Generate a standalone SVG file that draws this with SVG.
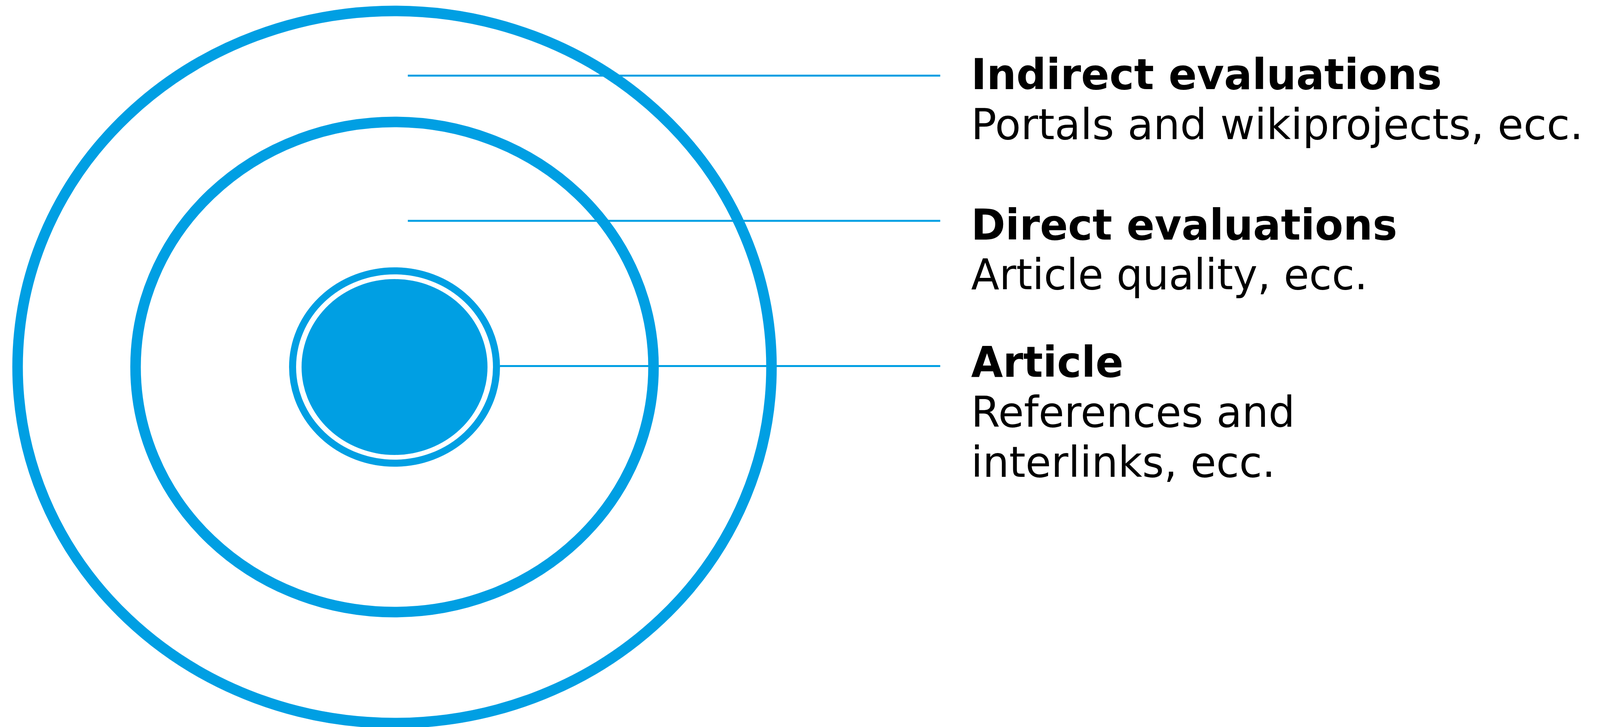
<svg xmlns="http://www.w3.org/2000/svg" width="4108" height="1860" viewBox="0 0 4108 1860">
<style>
.ring{fill:none;stroke:#009FE3}
.conn{stroke:#009FE3;stroke-width:5;fill:none}
.t{font-family:"DejaVu Sans","Verdana","Liberation Sans",sans-serif;font-size:108px;fill:#000}
.b{font-weight:bold}
</style>
<rect width="4108" height="1860" fill="#fff"/>
<g id="outer"><ellipse class="ring" cx="1010" cy="939" rx="965" ry="911" stroke-width="27"/></g>
<g id="middle"><ellipse class="ring" cx="1010" cy="939" rx="663" ry="627" stroke-width="27"/></g>
<g id="core">
<ellipse class="ring" cx="1010" cy="939" rx="261" ry="246" stroke-width="18"/>
<ellipse cx="1010" cy="939" rx="238" ry="225" fill="#009FE3"/>
</g>
<g id="connectors">
<line class="conn" x1="1044" y1="193.5" x2="2407" y2="193.5"/>
<line class="conn" x1="1044" y1="565" x2="2407" y2="565"/>
<line class="conn" x1="1280" y1="936.5" x2="2407" y2="936.5"/>
</g>
<g id="label-indirect">
<text class="t b" x="2486" y="228" textLength="1205" lengthAdjust="spacingAndGlyphs">Indirect evaluations</text>
<text class="t" x="2486" y="356" textLength="1567" lengthAdjust="spacingAndGlyphs">Portals and wikiprojects, ecc.</text>
</g>
<g id="label-direct">
<text class="t b" x="2486" y="613" textLength="1091" lengthAdjust="spacingAndGlyphs">Direct evaluations</text>
<text class="t" x="2486" y="740" textLength="1015" lengthAdjust="spacingAndGlyphs">Article quality, ecc.</text>
</g>
<g id="label-article">
<text class="t b" x="2486" y="964" textLength="390" lengthAdjust="spacingAndGlyphs">Article</text>
<text class="t" x="2486" y="1092" textLength="829" lengthAdjust="spacingAndGlyphs">References and</text>
<text class="t" x="2486" y="1220" textLength="779" lengthAdjust="spacingAndGlyphs">interlinks, ecc.</text>
</g>
</svg>
